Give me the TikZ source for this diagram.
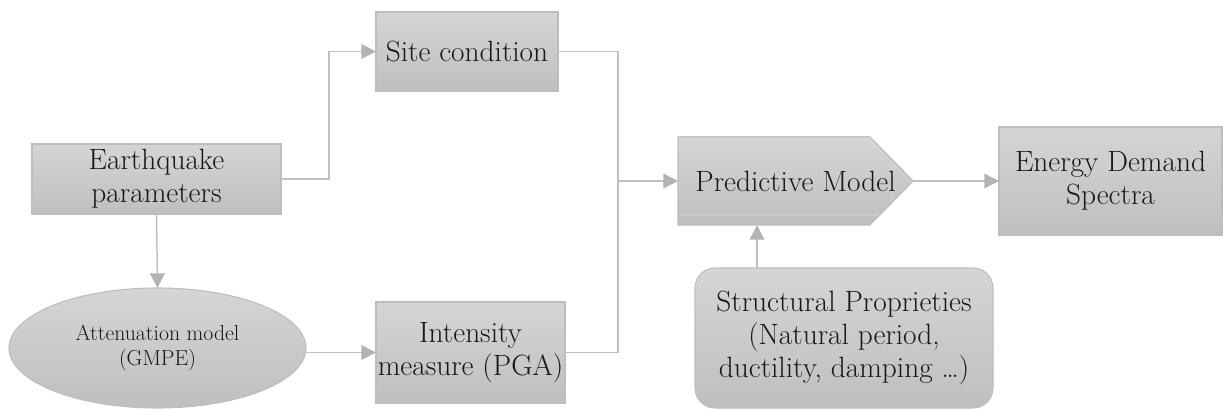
\documentclass[tikz,border=0pt]{standalone}
\usetikzlibrary{arrows.meta,shapes.geometric}

\definecolor{boxtop}{HTML}{D5D5D7}
\definecolor{boxbot}{HTML}{BFBFC1}
\definecolor{boxedge}{HTML}{BDBDBD}
\definecolor{wire}{HTML}{C0C0C0}
\definecolor{tipgray}{HTML}{B3B3B3}
\definecolor{ink}{HTML}{1A1718}
\definecolor{bevel}{HTML}{DADADC}

\tikzset{
  base/.style={draw=boxedge, line width=0.8pt, top color=boxtop, bottom color=boxbot,
    text=ink, align=center, inner sep=0pt, outer sep=0pt,
    font=\fontsize{22}{25}\selectfont},
  blockbox/.style={base, rectangle},
  roundbox/.style={base, rectangle, rounded corners=15pt},
  ovalbox/.style={base, ellipse, font=\fontsize{16.3}{19}\selectfont},
  textonly/.style={rectangle, inner sep=0pt, outer sep=0pt, text=ink, align=center,
    font=\fontsize{22}{25}\selectfont},
  flow/.style={draw=wire, line width=1.1pt,
    -{Triangle[length=11pt,width=11pt,color=tipgray]}},
  plain/.style={draw=wire, line width=1.1pt}
}

\begin{document}
\begin{tikzpicture}[x=0.75pt,y=-0.75pt]
\useasboundingbox (0,0) rectangle (1223,409);

% blocks
\node[blockbox, minimum width=136.5pt, minimum height=59.25pt] (site) at (467,51.5) {Site condition};
\node[blockbox, minimum width=186.75pt, minimum height=52.5pt] (eq) at (156.5,179) {Earthquake\\parameters};
\node[ovalbox, minimum width=222.75pt, minimum height=90pt] (att) at (157.5,348) {Attenuation model\\(GMPE)};
\node[blockbox, minimum width=141.75pt, minimum height=75.75pt] (int) at (470.5,352.5) {Intensity\\measure (PGA)};
\node[blockbox, minimum width=167.25pt, minimum height=81pt] (eds) at (1110.5,181) {Energy Demand\\Spectra};
\node[roundbox, minimum width=223.5pt, minimum height=105pt] (sp) at (844,338) {Structural Proprieties\\(Natural period,\\ductility, damping \dots)};

% predictive model: chevron block
\node[textonly, minimum width=176.25pt, minimum height=66pt] (pm) at (795.5,181) {};
\fill[top color=boxtop, bottom color=boxbot]
  (pm.north west) -- (870,137) -- (pm.east) -- (870,225) -- (pm.south west) -- cycle;
\draw[bevel, line width=0.6pt] (679,147) -- (880,147) -- (892,159) -- (892,203) -- (880,215) -- (679,215);
\draw[boxedge, line width=0.8pt]
  (pm.north west) -- (870,137) -- (pm.east) -- (870,225) -- (pm.south west) -- cycle;
\node[textonly] at (pm.center) {Predictive Model};

% junction columns
\coordinate (colA) at (329,0);
\coordinate (colB) at (618,0);
\coordinate (colC) at (757,0);

% connectors
\draw[flow] (eq.east) -- (eq.east -| colA) |- (site.west);
\draw[flow] (eq.south) -- (att.north);
\draw[flow] (att.east |- int.west) -- (int.west);
\draw[plain] (site.east) -- (site.east -| colB) -- (colB |- int.east);
\draw[plain] (int.east) -- (int.east -| colB);
\draw[flow] (colB |- pm.west) -- (pm.west);
\draw[flow] (pm.east) -- (eds.west);
\draw[flow] (sp.north -| colC) -- (pm.south -| colC);
\end{tikzpicture}
\end{document}
